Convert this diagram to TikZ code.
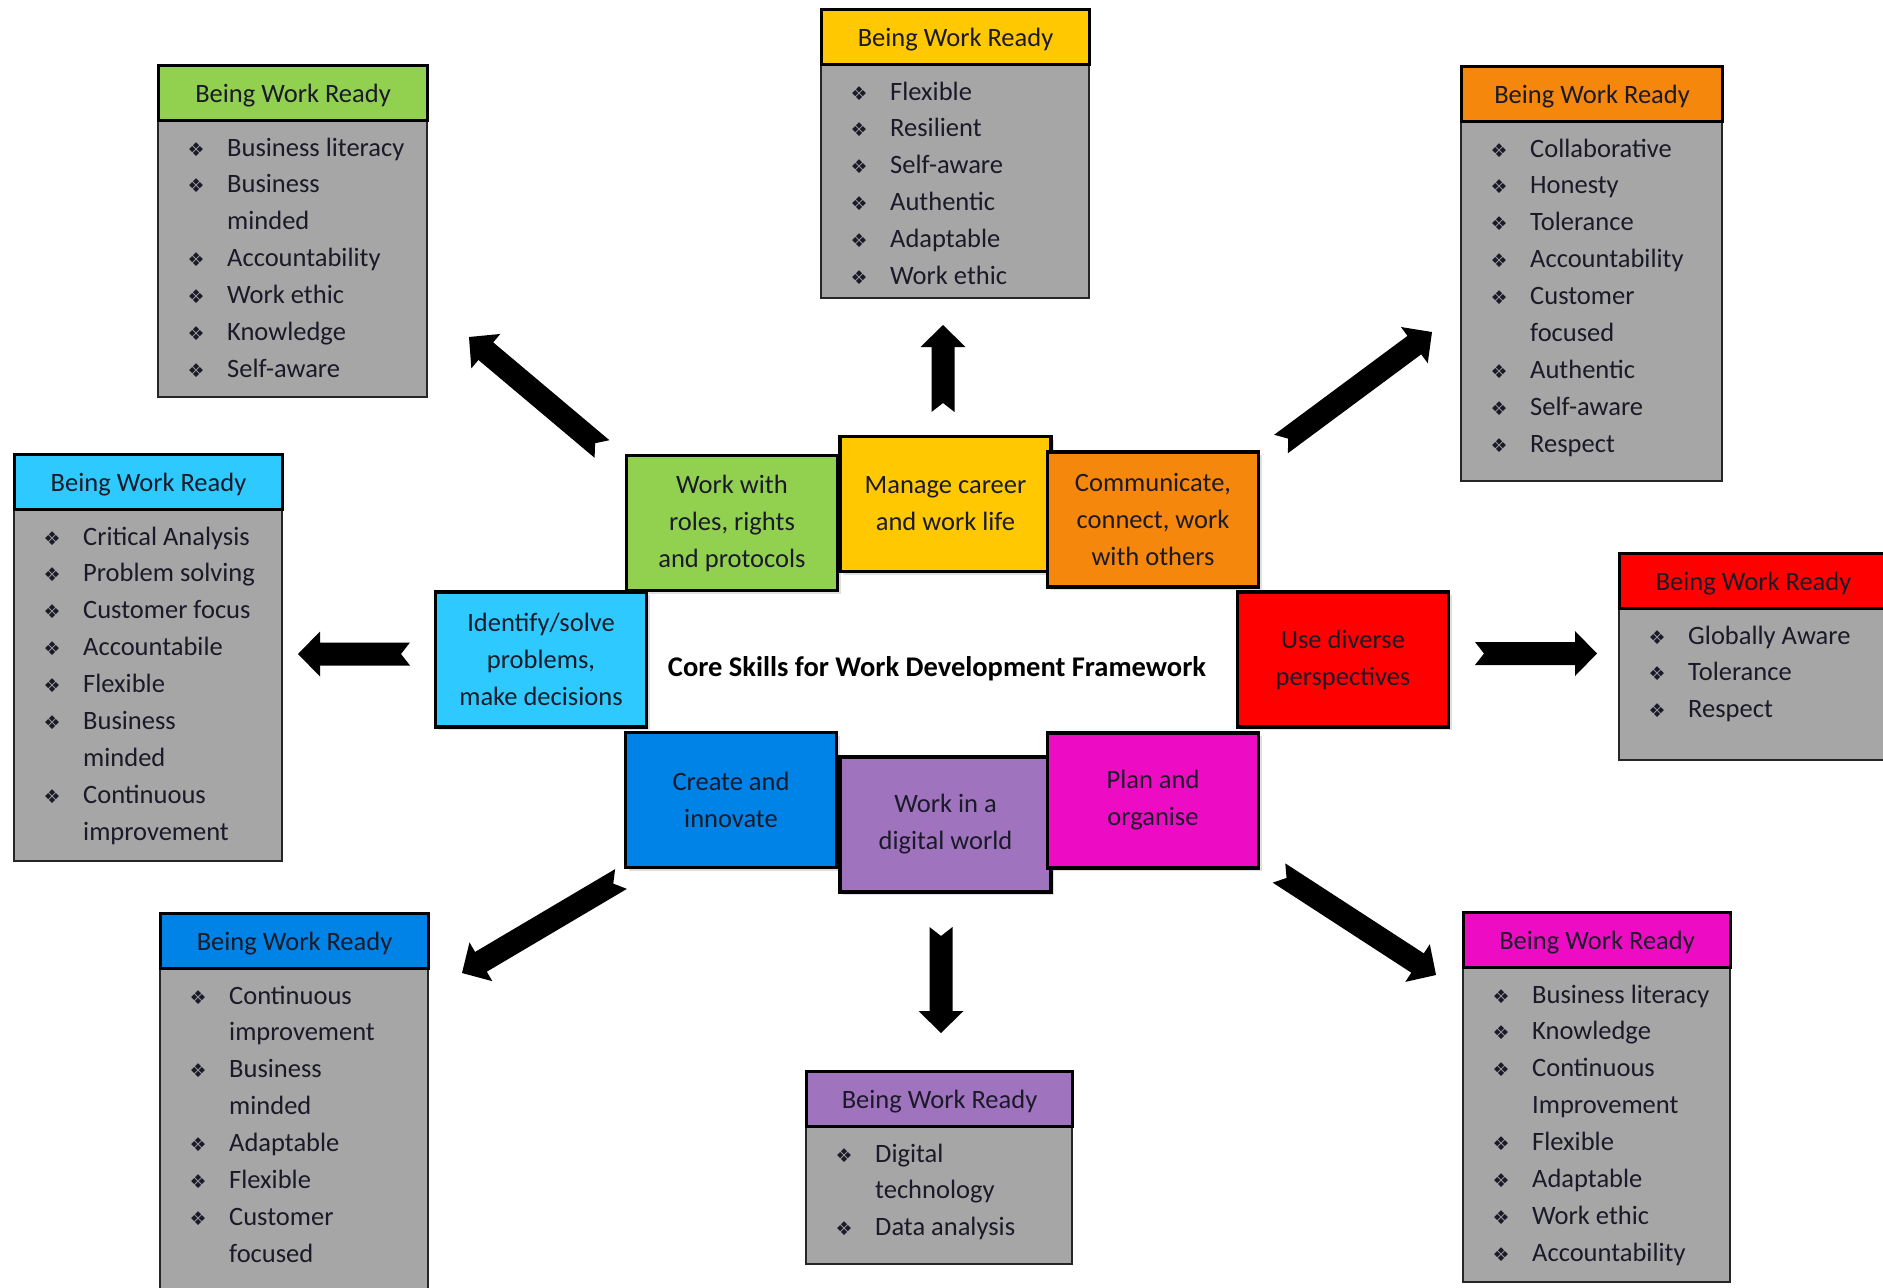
\documentclass[tikz,border=0pt]{standalone}
\usepackage{fontspec}
\setmainfont{Carlito}
\newfontfamily\symfont{DejaVu Sans}
\usetikzlibrary{calc,shadows}

\definecolor{cgreen}{HTML}{92D050}
\definecolor{cyellow}{HTML}{FFC800}
\definecolor{corange}{HTML}{F5870C}
\definecolor{ccyan}{HTML}{2ECAFF}
\definecolor{cred}{HTML}{FF0000}
\definecolor{cblue}{HTML}{0083E6}
\definecolor{cpurple}{HTML}{A073BE}
\definecolor{cmagenta}{HTML}{EE0BC4}
\definecolor{cgray}{HTML}{A6A6A6}
\definecolor{ctext}{HTML}{1A1A28}

\newcommand\ibul{\makebox[24pt][c]{\fontsize{19}{19}\symfont ❖}\hspace{19pt}}
\newcommand\icont{\hspace{43pt}}

\tikzset{
  hdr/.style={draw=black, line width=3pt, minimum height=55pt, anchor=north west,
    inner sep=0pt, text=ctext, font=\fontsize{26.5}{30}\selectfont},
  bodybox/.style={draw=black!85, line width=1.5pt, fill=cgray, anchor=north west, inner sep=0pt},
  itemtxt/.style={anchor=base west, inner sep=0pt, text=ctext, font=\fontsize{26.5}{30}\selectfont},
  core/.style={draw=black, line width=3.5pt, minimum width=211pt, minimum height=135pt,
    inner sep=0pt, align=center, text=ctext, font=\fontsize{26.5}{37}\selectfont,
    drop shadow={opacity=0.25, shadow xshift=3pt, shadow yshift=-3pt}},
  blockarrow/.style={fill=black},
}

% #1 name, #2 left x, #3 top y, #4 width, #5 height, #6 colour, #7 items
\newcommand\wrbox[7]{%
  \node[bodybox, minimum width=#4pt, minimum height=#5pt] (#1-body) at (#2,#3) {};
  \node[hdr, fill=#6, minimum width=#4pt] (#1-head) at (#2,#3)
    {\raisebox{-3pt}[\height][\depth]{Being Work Ready}};
  \foreach \t [count=\i from 0] in {#7} {
    \node[itemtxt] (#1-\i) at ({#2+27},{#3+92+\i*36.9}) {\t};
  }%
}

% notched block arrow from tail #1 to tip #2
\newcommand\notchedarrow[2]{%
  \coordinate (hb) at ($(#2)!22pt!(#1)$);
  \fill[blockarrow] ($(#1)!11.5pt!90:(#2)$) -- ($(hb)!11.5pt!90:(#2)$)
    -- ($(hb)!22.5pt!90:(#2)$) -- (#2) -- ($(hb)!22.5pt!-90:(#2)$)
    -- ($(hb)!11.5pt!-90:(#2)$) -- ($(#1)!11.5pt!-90:(#2)$)
    -- ($(#1)!9pt!(#2)$) -- cycle;
}

\begin{document}
\begin{tikzpicture}[x=1pt,y=-1pt]
\useasboundingbox (0,0) rectangle (1883,1288);
\fill[white] (0,0) rectangle (1883,1288);
\clip (0,0) rectangle (1883,1288);

% outer boxes
\wrbox{tl}{157}{64}{269}{332}{cgreen}{\ibul Business literacy, \ibul Business, \icont minded, \ibul Accountability, \ibul Work ethic, \ibul Knowledge, \ibul Self-aware}
\wrbox{tp}{820}{8}{268}{289}{cyellow}{\ibul Flexible, \ibul Resilient, \ibul Self-aware, \ibul Authentic, \ibul Adaptable, \ibul Work ethic}
\wrbox{tr}{1460}{65}{261}{415}{corange}{\ibul Collaborative, \ibul Honesty, \ibul Tolerance, \ibul Accountability, \ibul Customer, \icont focused, \ibul Authentic, \ibul Self-aware, \ibul Respect}
\wrbox{lf}{13}{453}{268}{407}{ccyan}{\ibul Critical Analysis, \ibul Problem solving, \ibul Customer focus, \ibul Accountabile, \ibul Flexible, \ibul Business, \icont minded, \ibul Continuous, \icont improvement}
\wrbox{rt}{1618}{552}{268}{207}{cred}{\ibul Globally Aware, \ibul Tolerance, \ibul Respect}
\wrbox{bl}{159}{912}{268}{400}{cblue}{\ibul Continuous, \icont improvement, \ibul Business, \icont minded, \ibul Adaptable, \ibul Flexible, \ibul Customer, \icont focused}
\wrbox{bt}{805}{1070}{266}{193}{cpurple}{\ibul Digital, \icont technology, \ibul Data analysis}
\wrbox{br}{1462}{911}{267}{370}{cmagenta}{\ibul Business literacy, \ibul Knowledge, \ibul Continuous, \icont Improvement, \ibul Flexible, \ibul Adaptable, \ibul Work ethic, \ibul Accountability}

% central skills
\node[core, fill=cgreen] (c1) at (732,523) {Work with\\roles, rights\\and protocols};
\node[core, fill=cyellow] (c2) at (945.5,504) {Manage career\\and work life};
\node[core, fill=corange] (c3) at (1153,519.5) {Communicate,\\connect, work\\with others};
\node[core, fill=ccyan] (c4) at (541,659.5) {Identify/solve\\problems,\\make decisions};
\node[core, fill=cred] (c5) at (1343,659.5) {Use diverse\\perspectives};
\node[core, fill=cblue] (c6) at (731,800) {Create and\\innovate};
\node[core, fill=cpurple] (c7) at (945.5,824.5) {Work in a\\digital world};
\node[core, fill=cmagenta] (c8) at (1153,800.5) {Plan and\\organise};
\node[font=\bfseries\fontsize{28.5}{32}\selectfont, text=black] (title) at (937,669) {Core Skills for Work Development Framework};

% arrows
\coordinate (a1s) at (943,412);  \coordinate (a1e) at (943,325);
\coordinate (a2s) at (1475,653.5); \coordinate (a2e) at (1597,653.5);
\coordinate (a3s) at (410,654);  \coordinate (a3e) at (298,654);
\coordinate (a4s) at (602,449);  \coordinate (a4e) at (469,337);
\coordinate (a5s) at (1281,444); \coordinate (a5e) at (1432,332);
\coordinate (a6s) at (621,879);  \coordinate (a6e) at (462,973);
\coordinate (a7s) at (941,927);  \coordinate (a7e) at (941,1033);
\coordinate (a8s) at (1279,873); \coordinate (a8e) at (1436,975);
\notchedarrow{a1s}{a1e}
\notchedarrow{a2s}{a2e}
\notchedarrow{a3s}{a3e}
\notchedarrow{a4s}{a4e}
\notchedarrow{a5s}{a5e}
\notchedarrow{a6s}{a6e}
\notchedarrow{a7s}{a7e}
\notchedarrow{a8s}{a8e}
\end{tikzpicture}
\end{document}
